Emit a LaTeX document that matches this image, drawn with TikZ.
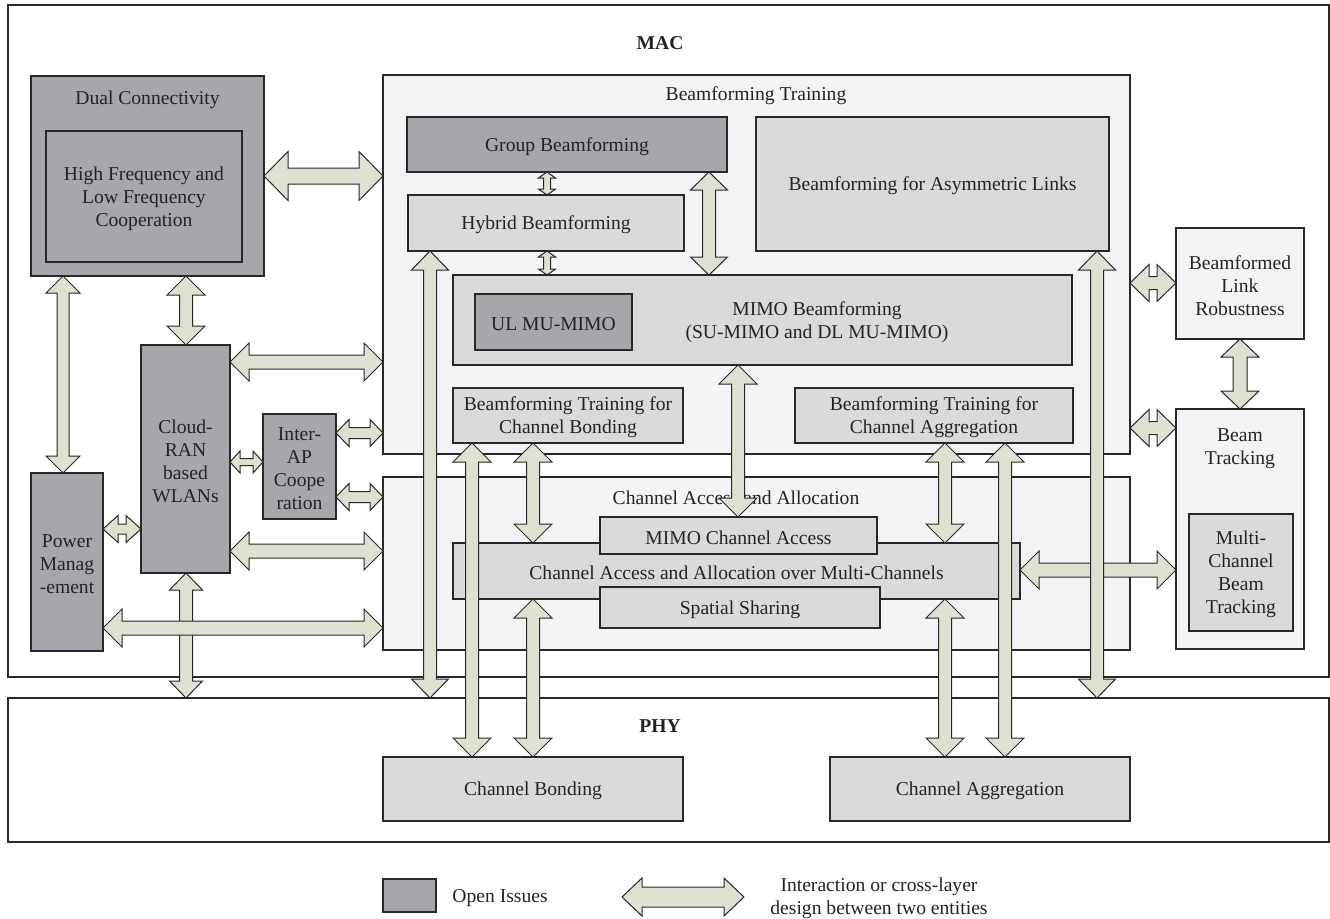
\documentclass[tikz,border=0pt]{standalone}
\usepackage{fontspec}
\setmainfont{Liberation Serif}
\usetikzlibrary{calc}
\definecolor{darkbox}{RGB}{165,167,170}
\definecolor{lightbox}{RGB}{217,218,218}
\definecolor{vlightbox}{RGB}{243,244,246}
\definecolor{arrfill}{RGB}{222,225,209}
\definecolor{bordc}{RGB}{40,40,40}
\definecolor{txtc}{RGB}{35,35,35}
\newcommand\pxu{0.5pt}
% horizontal double block arrow: #1 left tip, #2 right tip, #3 shaft half, #4 head half, #5 head length (px)
\newcommand\hdarr[5]{%
\draw[blockarr] let \p1=#1, \p2=#2 in
 (\x1,\y1) -- ({\x1+#5*\pxu},{\y1+#4*\pxu}) -- ({\x1+#5*\pxu},{\y1+#3*\pxu})
 -- ({\x2-#5*\pxu},{\y1+#3*\pxu}) -- ({\x2-#5*\pxu},{\y1+#4*\pxu}) -- (\x2,\y1)
 -- ({\x2-#5*\pxu},{\y1-#4*\pxu}) -- ({\x2-#5*\pxu},{\y1-#3*\pxu})
 -- ({\x1+#5*\pxu},{\y1-#3*\pxu}) -- ({\x1+#5*\pxu},{\y1-#4*\pxu}) -- cycle;}
% vertical double block arrow: #1 top tip, #2 bottom tip
\newcommand\vdarr[5]{%
\draw[blockarr] let \p1=#1, \p2=#2 in
 (\x1,\y1) -- ({\x1+#4*\pxu},{\y1-#5*\pxu}) -- ({\x1+#3*\pxu},{\y1-#5*\pxu})
 -- ({\x1+#3*\pxu},{\y2+#5*\pxu}) -- ({\x1+#4*\pxu},{\y2+#5*\pxu}) -- (\x1,\y2)
 -- ({\x1-#4*\pxu},{\y2+#5*\pxu}) -- ({\x1-#3*\pxu},{\y2+#5*\pxu})
 -- ({\x1-#3*\pxu},{\y1-#5*\pxu}) -- ({\x1-#4*\pxu},{\y1-#5*\pxu}) -- cycle;}
% box from pixel corners, with its text set slightly low as in the reference
\newcommand\bx[7]{\node[#6, minimum width={(#4-#2)*\pxu}, minimum height={(#5-#3)*\pxu}] (#1) at ({(#2+#4)/2},{(#3+#5)/2}) {};
\node[lbl] (#1-t) at ([yshift=-1pt]#1.center) {#7};}
\tikzset{
 basefont/.style={font=\fontsize{9.8}{11.5}\selectfont},
 lbl/.style={basefont, text=txtc, align=center, inner sep=0pt},
 box/.style={basefont, draw=bordc, line width=0.65pt, inner sep=0pt, outer sep=0pt, align=center, text=txtc},
 openbox/.style={box, fill=darkbox},
 subbox/.style={box, fill=lightbox},
 areabox/.style={box, fill=vlightbox},
 blockarr/.style={draw=bordc, fill=arrfill, line width=0.5pt, line join=miter},
}
\begin{document}
\begin{tikzpicture}[x=0.5pt,y=-0.5pt]
\useasboundingbox (0,0) rectangle (1330,918);
\fill[white] (0,0) rectangle (1330,918);
% layers
\bx{mac}{8}{5}{1329}{677}{box}{}
\node[lbl, font=\fontsize{9.8}{11.5}\selectfont\bfseries] (mactxt) at (660,43) {MAC};
\bx{phy}{8}{698}{1329}{842}{box}{}
\node[lbl, font=\fontsize{9.8}{11.5}\selectfont\bfseries] (phytxt) at (660,726) {PHY};
% left column
\bx{dc}{31}{76}{264}{276}{openbox}{}
\node[lbl] (dctxt) at (147.5,100) {Dual Connectivity};
\bx{hflf}{46}{131}{242}{262}{openbox}{High Frequency and\\Low Frequency\\Cooperation}
\bx{cr}{141}{345}{230}{573}{openbox}{Cloud-\\RAN\\based\\WLANs}
\bx{pm}{31}{473}{103}{651}{openbox}{Power\\Manag\\-ement}
\bx{iap}{263}{414}{336}{519}{openbox}{Inter-\\AP\\Coope\\ration}
% beamforming training
\bx{bft}{383}{75}{1130}{454}{areabox}{}
\node[lbl] (bfttxt) at (756,96) {Beamforming Training};
\bx{gb}{407}{117}{727}{172}{openbox}{Group Beamforming}
\bx{hb}{408}{195}{684}{251}{subbox}{Hybrid Beamforming}
\bx{bfal}{756}{117}{1109}{251}{subbox}{Beamforming for Asymmetric Links}
\bx{mimo}{453}{275}{1072}{365}{subbox}{}
\node[lbl] (mimotxt) at (817,322) {MIMO Beamforming\\(SU-MIMO and DL MU-MIMO)};
\bx{ulmu}{475}{294}{632}{350}{openbox}{UL MU-MIMO}
\bx{btcb}{453}{388}{683}{443}{subbox}{Beamforming Training for\\Channel Bonding}
\bx{btca}{795}{388}{1073}{443}{subbox}{Beamforming Training for\\Channel Aggregation}
% channel access
\bx{caa}{383}{477}{1130}{650}{areabox}{}
\node[lbl] (caatxt) at (736,498) {Channel Access and Allocation};
\bx{camc}{453}{543}{1020}{599}{subbox}{Channel Access and Allocation over Multi-Channels}
\bx{mca}{600}{517}{877}{554}{subbox}{MIMO Channel Access}
\bx{ss}{600}{587}{880}{628}{subbox}{Spatial Sharing}
% right column
\bx{blr}{1176}{228}{1304}{339}{areabox}{Beamformed\\Link\\Robustness}
\bx{bt}{1176}{409}{1304}{649}{areabox}{}
\node[lbl] (bttxt) at (1240,449) {Beam\\Tracking};
\bx{mcbt}{1189}{514}{1293}{631}{subbox}{Multi-\\Channel\\Beam\\Tracking}
% PHY
\bx{cb}{383}{757}{683}{821}{subbox}{Channel Bonding}
\bx{cag}{830}{757}{1130}{821}{subbox}{Channel Aggregation}
% arrows
\hdarr{(dc.east |- 0,176)}{(bft.west |- 0,176)}{8}{24.5}{24}
\vdarr{(dc.south -| 63,0)}{(pm.north -| 63,0)}{6}{17}{17}
\vdarr{(dc.south -| 186,0)}{(cr.north -| 186,0)}{6.5}{19}{19}
\hdarr{(cr.east |- 0,362)}{(bft.west |- 0,362)}{7}{19}{19}
\hdarr{(cr.east |- 0,462)}{(iap.west |- 0,462)}{3.5}{11}{10}
\hdarr{(iap.east |- 0,433)}{(bft.west |- 0,433)}{5.5}{13.5}{13}
\hdarr{(iap.east |- 0,497)}{(caa.west |- 0,497)}{5.5}{13.5}{13}
\hdarr{(pm.east |- 0,529)}{(cr.west |- 0,529)}{5}{13.5}{15}
\hdarr{(cr.east |- 0,551)}{(caa.west |- 0,551)}{7}{19}{19}
\vdarr{(cr.south -| 186,0)}{(phy.north -| 186,0)}{6.5}{16.5}{17}
\hdarr{(pm.east |- 0,628)}{(caa.west |- 0,628)}{7}{19}{19}
\vdarr{(gb.south -| 547,0)}{(hb.north -| 547,0)}{3.5}{8.5}{6}
\vdarr{(hb.south -| 547,0)}{(mimo.north -| 547,0)}{3.5}{8.5}{6}
\vdarr{(gb.south -| 709,0)}{(mimo.north -| 709,0)}{6.5}{18.5}{18}
\vdarr{(hb.south -| 430,0)}{(phy.north -| 430,0)}{6.5}{18.5}{19}
\vdarr{(mimo.south -| 738,0)}{(mca.north -| 738,0)}{6.5}{19}{19}
\vdarr{(btcb.south -| 472,0)}{(cb.north -| 472,0)}{6.5}{19}{19}
\vdarr{(btcb.south -| 533,0)}{(camc.north -| 533,0)}{6.5}{19}{19}
\vdarr{(camc.south -| 533,0)}{(cb.north -| 533,0)}{6.5}{19}{19}
\vdarr{(btca.south -| 945,0)}{(camc.north -| 945,0)}{6.5}{19}{19}
\vdarr{(camc.south -| 945,0)}{(cag.north -| 945,0)}{6.5}{19}{19}
\vdarr{(btca.south -| 1005,0)}{(cag.north -| 1005,0)}{6.5}{19}{19}
\hdarr{(bft.east |- 0,283)}{(blr.west |- 0,283)}{6.5}{18.5}{19}
\hdarr{(bft.east |- 0,428)}{(bt.west |- 0,428)}{6.5}{18.5}{19}
\vdarr{(blr.south -| 1240,0)}{(bt.north -| 1240,0)}{7}{19}{18}
\hdarr{(camc.east |- 0,570)}{(bt.west |- 0,570)}{7}{19}{19}
\vdarr{(bfal.south -| 1097,0)}{(phy.north -| 1097,0)}{6.5}{18.5}{19}
% legend
\bx{legbox}{383}{879}{436}{912}{openbox}{}
\node[lbl, anchor=west] (legopen) at (452,898) {Open Issues};
\coordinate (legL) at (622,897);
\coordinate (legR) at (744,897);
\hdarr{(legL)}{(legR)}{10}{19}{20}
\node[lbl] (leginter) at (879,898) {Interaction or cross-layer\\design between two entities};
\end{tikzpicture}
\end{document}
